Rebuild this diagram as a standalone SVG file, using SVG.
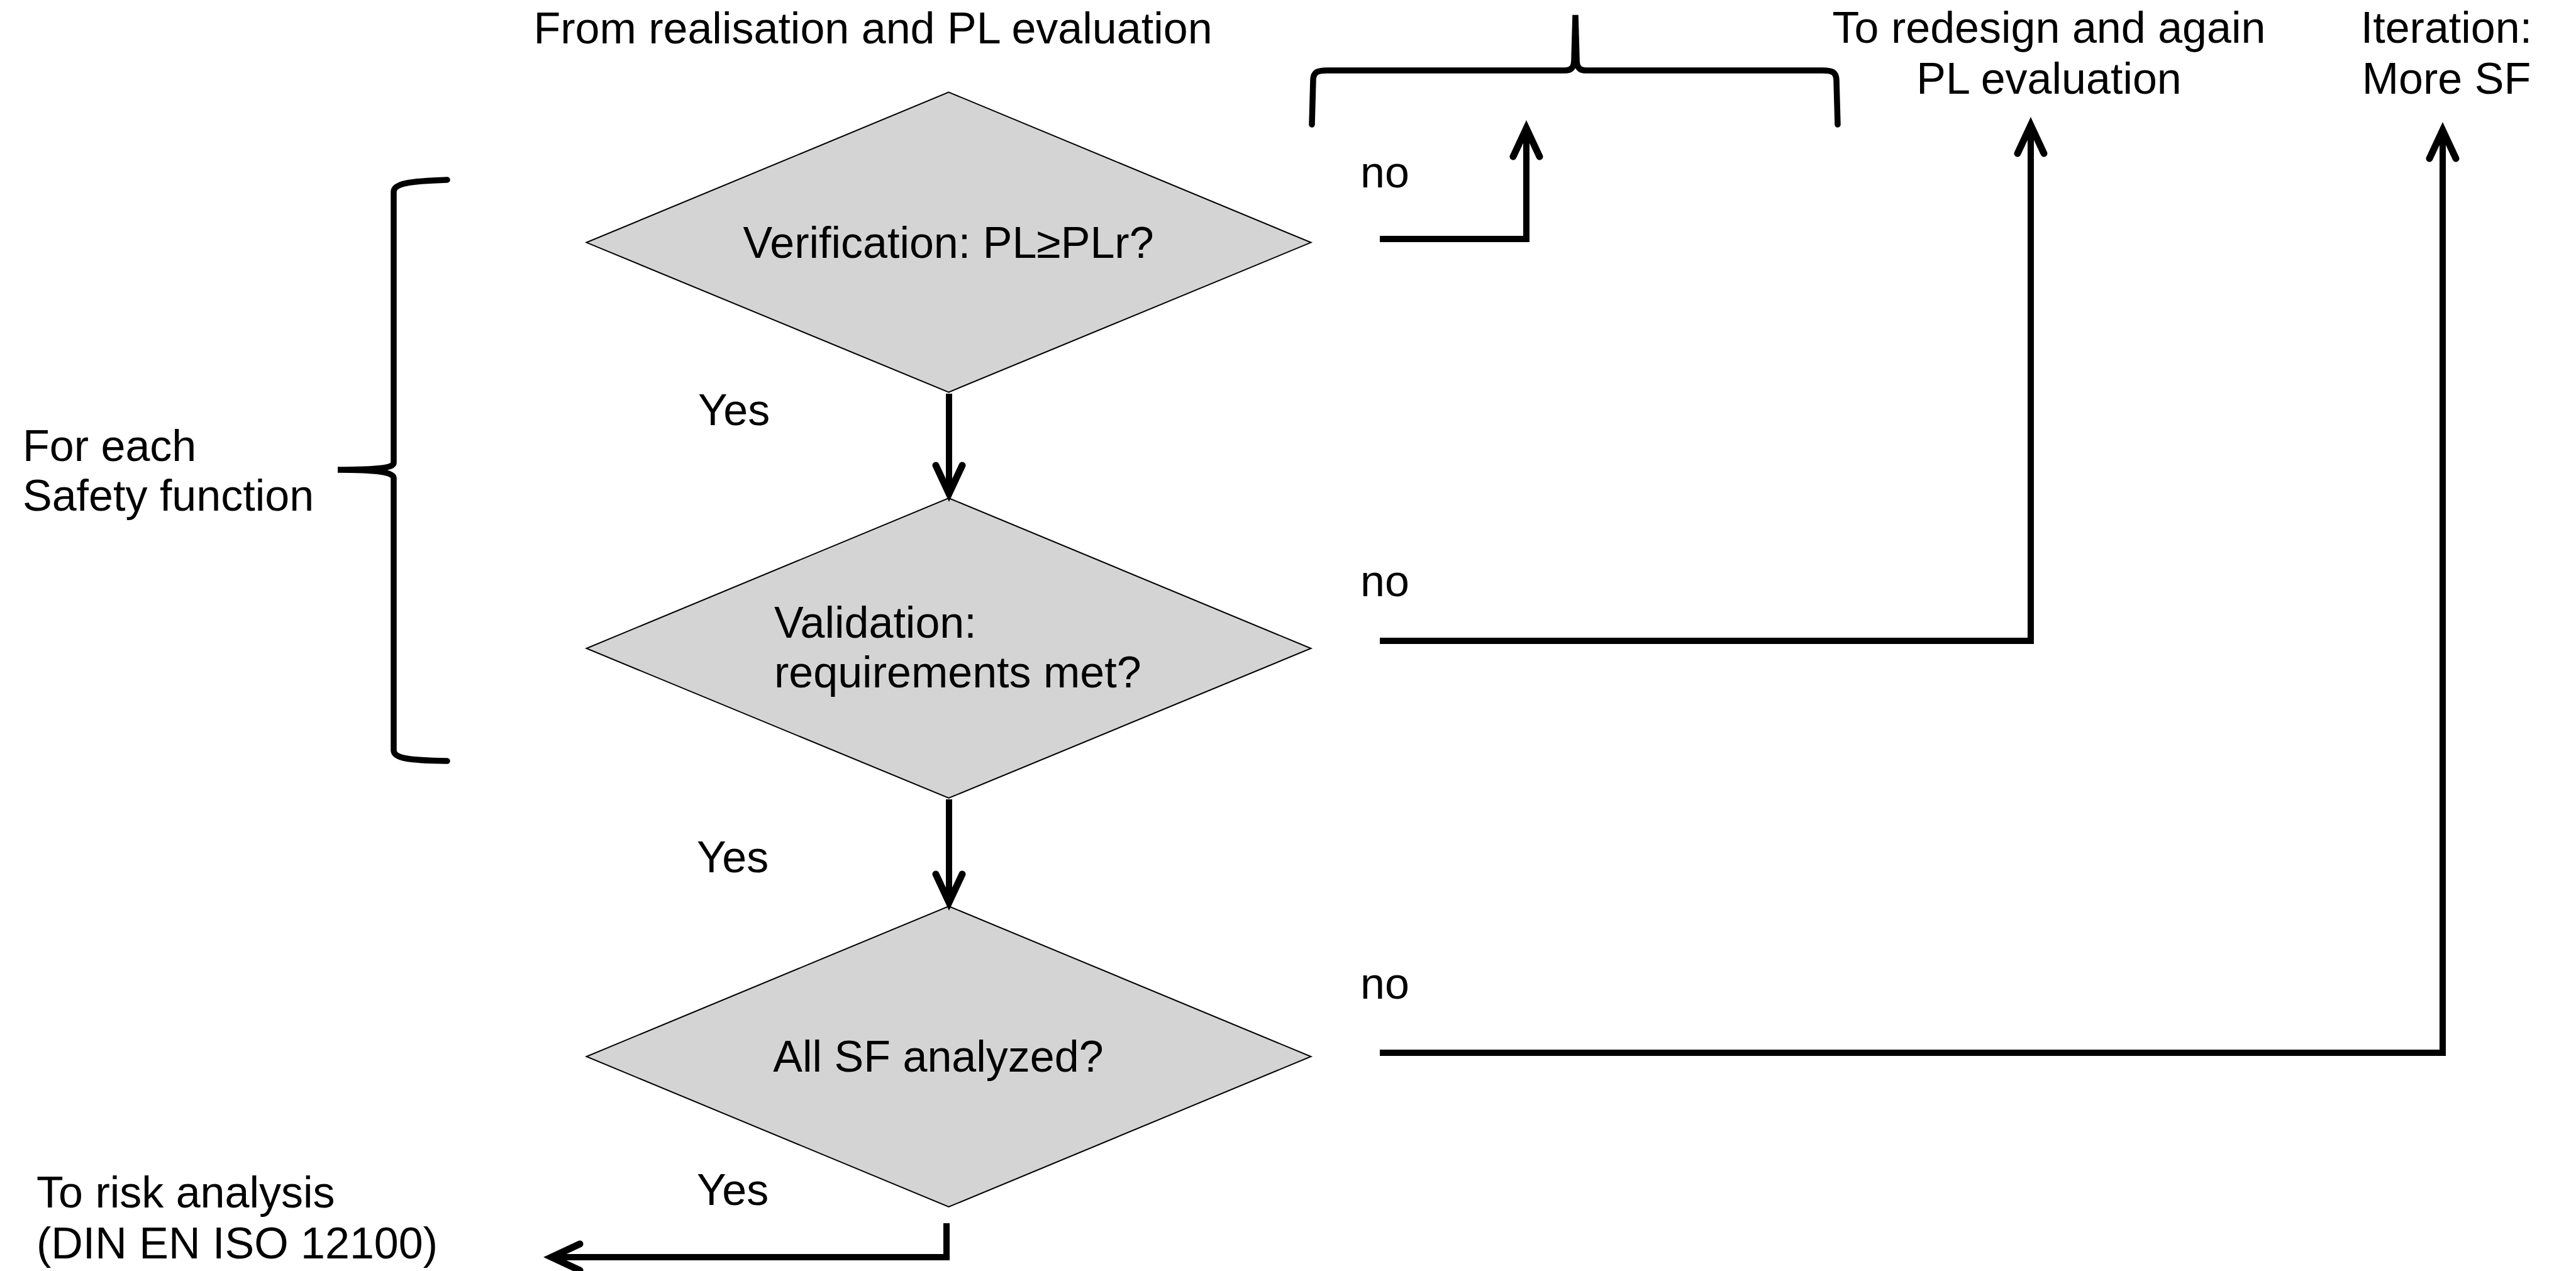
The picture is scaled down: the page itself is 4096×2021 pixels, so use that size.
<svg xmlns="http://www.w3.org/2000/svg" width="4096" height="2021" viewBox="0 0 4096 2021">
<style>
.t{font-family:"Liberation Sans",Arial,sans-serif;font-size:70px;fill:#000}
.m{text-anchor:middle}
.d{fill:#d4d4d4;stroke:#000;stroke-width:2}
.c{fill:none;stroke:#000;stroke-width:10;stroke-linejoin:miter}
.b{fill:none;stroke:#000;stroke-width:9.5;stroke-linecap:round}
</style>
<defs>
<marker id="ah" markerUnits="userSpaceOnUse" viewBox="-60 -30 70 60" refX="0" refY="0" markerWidth="70" markerHeight="60" orient="auto" overflow="visible">
<path d="M-45 -21 L0 0 L-45 21" fill="none" stroke="#000" stroke-width="11" stroke-linejoin="miter" stroke-linecap="round"/>
</marker>
</defs>
<rect width="4096" height="2021" fill="#fff"/>
<text class="t m" x="1388" y="69">From realisation and PL evaluation</text>
<text class="t m" x="3258" y="68">To redesign and again</text>
<text class="t m" x="3258" y="149">PL evaluation</text>
<text class="t m" x="3890" y="68">Iteration:</text>
<text class="t m" x="3890" y="149">More SF</text>
<g id="brace-top"><path class="b" d="M2086 198 L2088 126 C2089 115 2094 112 2110 112 L2488 112 C2499 112 2503 107 2503 94 L2505 24 L2507 94 C2507 107 2511 112 2522 112 L2898 112 C2914 112 2919 115 2920 126 L2922 198"/></g>
<g id="brace-left"><path class="b" d="M711 286 C650 288 626 292 626 305 L626 736 C626 744 600 747 537 747 C600 747 626 751 626 760 L626 1193 C626 1206 650 1209 711 1210"/></g>
<g id="label-sf"><text class="t" x="36" y="733">For each</text><text class="t" x="36" y="812">Safety function</text></g>
<g id="n1"><polygon class="d" points="1508.5,146.6 2084.5,385.6 1508.5,623.6 932.5,385.6"/><text class="t m" x="1508" y="410">Verification: PL≥PLr?</text></g>
<g id="n2"><polygon class="d" points="1508.5,792 2084.5,1031 1508.5,1269 932.5,1031"/><text class="t" x="1231" y="1014">Validation:</text><text class="t" x="1231" y="1093">requirements met?</text></g>
<g id="n3"><polygon class="d" points="1508.5,1441 2084.5,1680 1508.5,1919 932.5,1680"/><text class="t m" x="1492" y="1704">All SF analyzed?</text></g>
<g id="end"><text class="t" x="58" y="1920">To risk analysis</text><text class="t" x="58" y="2001">(DIN EN ISO 12100)</text></g>
<g id="connectors">
<path class="c" d="M1509 626 L1509 785" marker-end="url(#ah)"/>
<path class="c" d="M1509 1271 L1509 1435" marker-end="url(#ah)"/>
<path class="c" d="M1505 1945 L1505 1999 L877 1999" marker-end="url(#ah)"/>
<path class="c" d="M2194 380 L2427 380 L2427 204" marker-end="url(#ah)"/>
<path class="c" d="M2194 1019 L3229 1019 L3229 199" marker-end="url(#ah)"/>
<path class="c" d="M2194 1674 L3884 1674 L3884 207" marker-end="url(#ah)"/>
</g>
<g id="labels">
<text class="t" x="2163" y="298">no</text>
<text class="t" x="2163" y="948">no</text>
<text class="t" x="2163" y="1588">no</text>
<text class="t" x="1110" y="676">Yes</text>
<text class="t" x="1108" y="1387">Yes</text>
<text class="t" x="1108" y="1916">Yes</text>
</g>
</svg>
